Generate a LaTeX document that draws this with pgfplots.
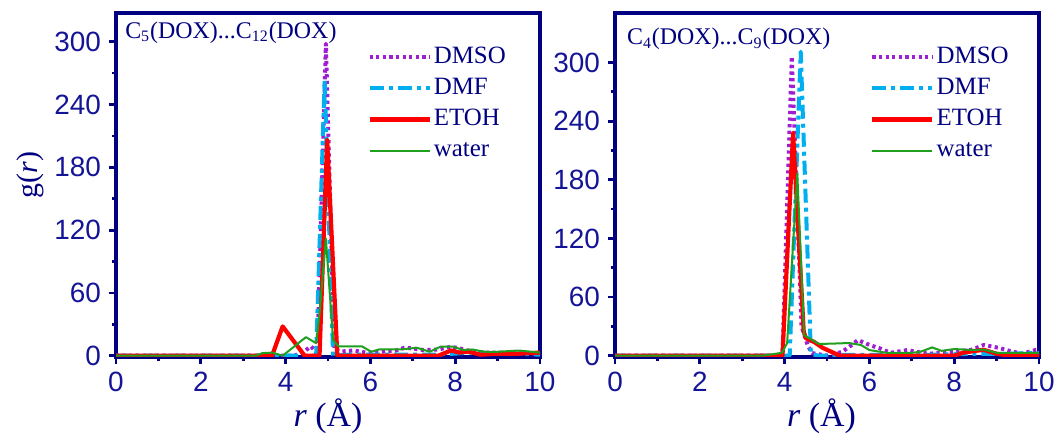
\documentclass[border=0pt]{standalone}
\usepackage{pgfplots}
\pgfplotsset{compat=1.18}
\usepackage{fontspec}
\setmainfont{Liberation Serif}
\newfontfamily\arialfont{Liberation Sans}
\definecolor{navyc}{RGB}{0,0,128}
\definecolor{tickc}{RGB}{20,20,150}
\definecolor{dmsoc}{RGB}{160,30,210}
\definecolor{dmfc}{RGB}{0,175,240}
\definecolor{etohc}{RGB}{255,0,0}
\definecolor{waterc}{RGB}{30,160,30}

\pgfplotsset{
  gstyle/.style={
    scale only axis, width=212bp, height=172bp,
    anchor=south west,
    xmin=0, xmax=10, xtick={0,2,...,10}, minor x tick num=1,
    minor y tick num=1,
    tick align=outside, xtick pos=bottom, ytick pos=left,
    axis line style={navyc, line width=1.6bp},
    every tick/.style={navyc, line width=1.4bp},
    major tick length=3.5bp, minor tick length=2.2bp,
    tick label style={font=\fontsize{14}{14}\arialfont, text=tickc},
    /pgf/number format/assume math mode=true,
    xticklabel style={yshift=-0.5bp},
    yticklabel style={xshift=-0.5bp},
    xlabel={\textit{r} (Å)},
    xlabel style={font=\fontsize{17}{18}\selectfont, text=navyc, anchor=center},
    legend cell align=left,
    legend style={draw=none, fill=none, font=\fontsize{12.5}{13}\selectfont, text=navyc,
      nodes={text height=8.5bp, text depth=2.5bp, inner sep=2.3bp},
      /tikz/every odd column/.append style={column sep=-1.2bp}},
    legend image code/.code={\draw[#1] (0bp,0bp) -- (30bp,0bp);},
    every axis plot/.append style={line join=round},
  },
  dmso/.style={dmsoc, line width=2bp, dash pattern=on 1.6bp off 1.7bp},
  dmf/.style={dmfc, line width=2bp, dash pattern=on 7bp off 2.5bp on 2bp off 2.5bp},
  etoh/.style={etohc, line width=2.1bp},
  water/.style={waterc, line width=1bp},
}

\begin{document}
\begin{tikzpicture}
\path[use as bounding box] (0,0) rectangle (530bp,218bp);

% ---------------- left panel
\begin{axis}[gstyle, at={(58bp,39.5bp)},
  ymin=-1.2, ymax=327.4, ytick={0,60,...,300},
  ylabel={g(\textit{r})},
  ylabel style={font=\fontsize{15}{16}\selectfont, text=navyc, at={(axis description cs:-0.203,0.529)}, anchor=center},
  xlabel style={at={(axis description cs:0.5,-0.1715)}},
  legend style={at={(axis description cs:0.578,0.93)}, anchor=north west},
]
\addplot[dmso] coordinates {(0,0) (4.2,0) (4.4,3) (4.6,9) (4.75,2) (4.85,150) (4.95,298) (5.05,150) (5.15,6) (5.3,4) (5.6,5) (5.9,3) (6.3,4) (6.6,5) (6.8,7.6) (7.0,7) (7.25,5.4) (7.6,6) (7.9,8.6) (8.1,7) (8.4,4) (8.7,3) (9.2,3) (9.6,2) (10,2)};
\addplot[dmf] coordinates {(0,0) (4.72,0) (4.92,263) (5.12,0) (5.5,1) (6.5,1) (7.5,1) (8.0,2) (8.3,3) (8.6,3) (9.0,2) (9.5,2) (10,1)};
\addplot[etoh] coordinates {(0,0) (3.68,0) (3.93,28) (4.45,0) (4.8,0) (4.98,206) (5.22,0) (7.6,0) (7.9,5) (8.1,3) (8.3,4) (8.6,1) (9.0,2) (9.5,2) (10,3)};
\addplot[water] coordinates {(0,0) (3.3,0) (3.45,2.5) (3.69,3) (3.93,0) (4.48,17.8) (4.72,12) (4.8,40) (4.95,112) (5.12,15) (5.25,9) (5.8,9) (6.02,3.8) (6.2,6) (6.7,6) (7.1,7.6) (7.4,3.8) (7.65,8.6) (7.95,8.6) (8.2,5.5) (8.4,6) (8.7,3.8) (9.0,3.8) (9.5,5) (10,3)};
\legend{DMSO, DMF, ETOH, water}
\node[anchor=base west, font=\fontsize{12}{13}\selectfont, text=navyc, inner sep=0pt] at (rel axis cs:0.021,0.927) {C\textsubscript{5}(DOX)...C\textsubscript{12}(DOX)};
\end{axis}

% ---------------- right panel
\begin{axis}[gstyle, at={(307.5bp,39.5bp)},
  ymin=-1.3, ymax=350.6, ytick={0,60,...,300},
  xlabel style={at={(axis description cs:0.487,-0.1715)}},
  legend style={at={(axis description cs:0.587,0.93)}, anchor=north west},
]
\addplot[dmso] coordinates {(0,0) (3.95,0) (4.17,306) (4.4,30) (4.55,10) (4.65,2.7) (5.0,0) (5.36,4) (5.55,10) (5.73,16) (6.0,11) (6.23,7.8) (6.5,3) (6.9,5.8) (7.1,4) (7.4,2) (7.7,3) (8.0,4) (8.4,6) (8.7,11) (9.06,8) (9.3,5) (9.6,2) (9.93,6) (10,6)};
\addplot[dmf] coordinates {(0,0) (4.12,0) (4.38,311) (4.62,2) (4.8,0) (5.5,1) (6.5,1) (7.5,1) (8.5,2) (9.3,2) (10,3)};
\addplot[etoh] coordinates {(0,0) (3.95,0) (4.2,228) (4.45,25) (4.5,18) (4.7,14) (4.9,8) (5.17,2.7) (5.3,0) (8.0,0) (8.2,3) (8.5,5) (8.7,6) (9.0,2) (9.3,0) (10,0)};
\addplot[water] coordinates {(0,0) (3.47,0) (3.94,3) (4.06,13) (4.3,186) (4.46,21) (4.81,12) (5.2,12.5) (5.52,13) (5.8,11) (6.0,5.8) (6.4,3) (7.0,3) (7.2,4) (7.48,8.5) (7.7,5) (8.0,6.8) (8.4,6) (8.7,6.2) (9.0,3) (10,3)};
\legend{DMSO, DMF, ETOH, water}
\node[anchor=base west, font=\fontsize{12}{13}\selectfont, text=navyc, inner sep=0pt] at (rel axis cs:0.0275,0.907) {C\textsubscript{4}(DOX)...C\textsubscript{9}(DOX)};
\end{axis}
\end{tikzpicture}
\end{document}
